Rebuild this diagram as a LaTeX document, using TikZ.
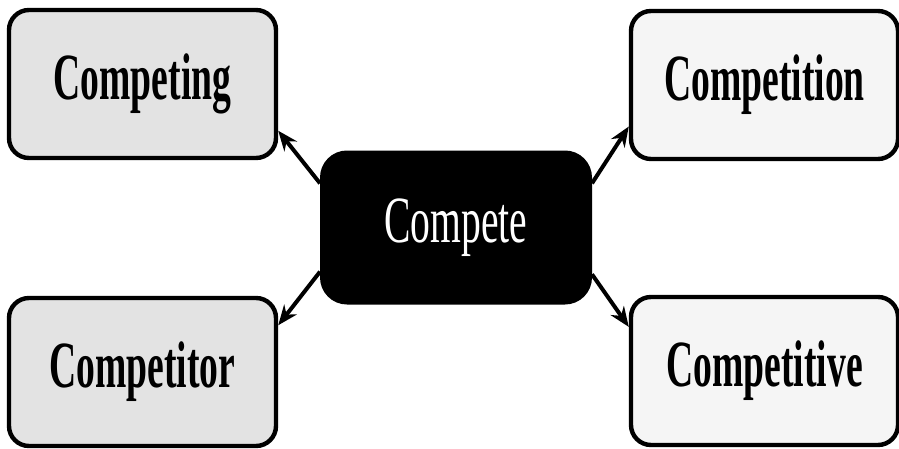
\documentclass[tikz,border=0pt]{standalone}
\usepackage{fontspec}
\usepackage{graphicx}
\setmainfont{Liberation Serif}
\usetikzlibrary{arrows.meta}
\newcommand{\lbl}[1]{\scalebox{0.6}[1]{\fontsize{33}{36}\selectfont #1}}
\newcommand{\blbl}[1]{\scalebox{0.57}[1]{\fontsize{33}{36}\selectfont\bfseries #1}}
\tikzset{
  wordbox/.style={draw=black, line width=2.2pt, rounded corners=10pt,
    minimum width=133.5pt, minimum height=74pt, inner sep=0pt, text=black},
  leftfill/.style={fill=black!11},
  rightfill/.style={fill=black!4},
  centerbox/.style={draw=black, fill=black, line width=1pt, rounded corners=13pt,
    minimum width=135pt, minimum height=76pt, inner sep=0pt, text=white},
  link/.style={line width=2pt, -{Stealth[length=10pt,width=8pt]}}
}
\begin{document}
\begin{tikzpicture}[x=0.5pt,y=-0.5pt]
\useasboundingbox (0,0) rectangle (899,449);
\node[wordbox,leftfill] (ting) at (142.5,84) {\blbl{Competing}};
\node[wordbox,rightfill] (tion) at (764.5,85) {\blbl{Competition}};
\node[wordbox,leftfill] (tor) at (142.5,372) {\blbl{Competitor}};
\node[wordbox,rightfill] (tive) at (764.5,371) {\blbl{Competitive}};
\node[centerbox] (c) at (456,227.5) {\lbl{Compete}};
\draw[link] (c.162) -- (ting.-19);
\draw[link] (c.18) -- (tion.197);
\draw[link] (c.198) -- (tor.19);
\draw[link] (c.-19) -- (tive.162);
\end{tikzpicture}
\end{document}
